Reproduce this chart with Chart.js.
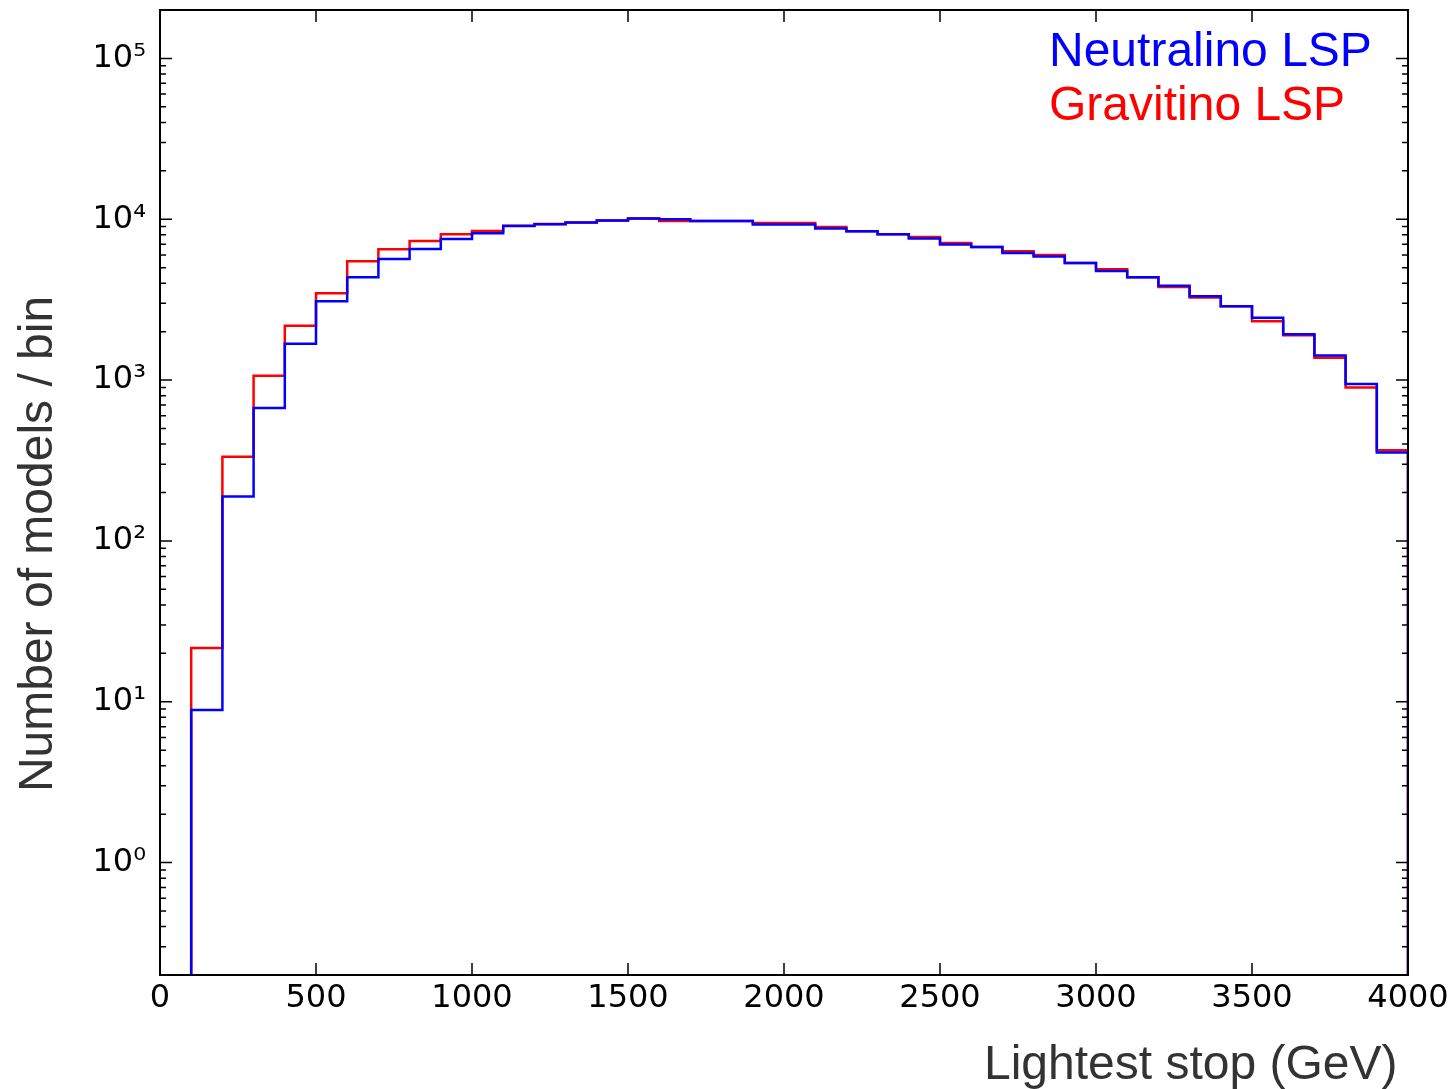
<!DOCTYPE html>
<html>
<head>
<meta charset="utf-8">
<script src="https://cdn.jsdelivr.net/npm/chart.js@4"></script>
<style>
  html, body { margin: 0; padding: 0; background: #fff; }
  #wrap { width: 1452px; height: 1089px; position: relative; }
</style>
</head>
<body>
<div id="wrap"><canvas id="stopChart"></canvas></div>
<script>
// Bin left edges (GeV), bins are 100 GeV wide
var binEdges = [100, 200, 300, 400, 500, 600, 700, 800, 900, 1000,
    1100, 1200, 1300, 1400, 1500, 1600, 1700, 1800, 1900, 2000,
    2100, 2200, 2300, 2400, 2500, 2600, 2700, 2800, 2900, 3000,
    3100, 3200, 3300, 3400, 3500, 3600, 3700, 3800, 3900];
var binUpper = 4000;

// Number of models / bin
var neutralino = [8.9, 189, 670, 1680, 3090, 4360, 5660, 6530, 7540, 8180,
    9080, 9310, 9530, 9810, 10100, 10000, 9760, 9760, 9270, 9270,
    8750, 8420, 8070, 7590, 6960, 6720, 6170, 5860, 5350, 4770,
    4360, 3860, 3320, 2880, 2440, 1930, 1420, 944, 355];
var gravitino = [21.6, 334, 1065, 2180, 3470, 5480, 6510, 7330, 8070, 8460,
    9100, 9330, 9550, 9830, 10100, 9760, 9760, 9760, 9490, 9490,
    8960, 8420, 8070, 7760, 7130, 6720, 6330, 5990, 5350, 4880,
    4360, 3790, 3260, 2880, 2320, 1900, 1376, 898, 366];

var xTickValues = [0, 500, 1000, 1500, 2000, 2500, 3000, 3500, 4000];
var yTickValues = [1, 10, 100, 1000, 10000, 100000];
var yTickLabels = ['10\u2070', '10\u00B9', '10\u00B2', '10\u00B3', '10\u2074', '10\u2075'];

var yMin = 0.2, yMax = 2e5, yFloor = 0.1;

// histogram outline: drop from floor, step through bins, drop back to floor
function histPoints(values) {
    var pts = [{x: binEdges[0], y: yFloor}];
    binEdges.forEach(function (e, i) { pts.push({x: e, y: values[i]}); });
    pts.push({x: binUpper, y: values[values.length - 1]});
    pts.push({x: binUpper, y: yFloor});
    return pts;
}

// frame, inward ticks, legend text and axis titles
var frameTicks = {
    id: 'frameTicks',
    afterDraw: function (chart) {
        var ctx = chart.ctx, a = chart.chartArea;
        var x = chart.scales.x, y = chart.scales.y;
        ctx.save();
        ctx.strokeStyle = '#000';
        ctx.lineWidth = 1.5;
        ctx.beginPath();
        xTickValues.forEach(function (v) {
            var px = x.getPixelForValue(v);
            ctx.moveTo(px, a.bottom); ctx.lineTo(px, a.bottom - 12);
            ctx.moveTo(px, a.top); ctx.lineTo(px, a.top + 12);
        });
        for (var e = -1; e <= 5; e++) {
            for (var m = 1; m <= 9; m++) {
                var v = m * Math.pow(10, e);
                if (v < yMin || v > yMax) continue;
                var py = y.getPixelForValue(v);
                var len = m === 1 ? 12 : 6;
                ctx.moveTo(a.left, py); ctx.lineTo(a.left + len, py);
                ctx.moveTo(a.right, py); ctx.lineTo(a.right - len, py);
            }
        }
        ctx.stroke();
        ctx.lineWidth = 2;
        ctx.strokeRect(a.left, a.top, a.right - a.left, a.bottom - a.top);

        // legend as plain coloured text
        ctx.font = '48px "Liberation Sans", Arial, sans-serif';
        ctx.textAlign = 'left';
        ctx.textBaseline = 'alphabetic';
        chart.data.datasets.forEach(function (ds, i) {
            ctx.fillStyle = ds.borderColor;
            ctx.fillText(ds.label, 1049, 66 + i * 54);
        });

        // axis titles
        ctx.fillStyle = '#333';
        ctx.fillText('Lightest stop (GeV)', 984, 1079);
        ctx.translate(52, 544);
        ctx.rotate(-Math.PI / 2);
        ctx.textAlign = 'center';
        ctx.fillText('Number of models / bin', 0, 0);
        ctx.restore();
    }
};

var ctx = document.getElementById('stopChart');

var chartData = {
    datasets: [{
        label: 'Neutralino LSP',
        data: histPoints(neutralino),
        borderColor: '#0000ff',
        borderWidth: 2.5,
        stepped: 'before',
        pointRadius: 0,
        fill: false
    }, {
        label: 'Gravitino LSP',
        data: histPoints(gravitino),
        borderColor: '#ff0000',
        borderWidth: 2.5,
        stepped: 'before',
        pointRadius: 0,
        fill: false
    }]
};

var chartOptions = {
    responsive: true,
    maintainAspectRatio: false,
    animation: false,
    layout: { padding: { top: 10, right: 44, left: 0, bottom: 0 } },
    plugins: { legend: { display: false }, tooltip: { enabled: false } },
    scales: {
        x: {
            type: 'linear',
            min: 0,
            max: 4000,
            grid: { display: false, drawTicks: false },
            border: { display: false },
            afterBuildTicks: function (scale) {
                scale.ticks = xTickValues.map(function (v) { return {value: v}; });
            },
            afterFit: function (scale) {
                scale.height = 114;
                scale.paddingLeft = 0; scale.paddingRight = 0;
            },
            ticks: {
                padding: 4,
                maxRotation: 0,
                color: '#000',
                font: { family: '"DejaVu Sans", sans-serif', size: 32 },
                callback: function (v) { return String(v); }
            }
        },
        y: {
            type: 'logarithmic',
            min: yMin,
            max: yMax,
            grid: { display: false, drawTicks: false },
            border: { display: false },
            afterBuildTicks: function (scale) {
                scale.ticks = yTickValues.map(function (v) { return {value: v}; });
            },
            afterFit: function (scale) {
                scale.width = 160;
                scale.paddingTop = 0; scale.paddingBottom = 0;
            },
            ticks: {
                padding: 14,
                color: '#000',
                font: { family: '"DejaVu Sans", sans-serif', size: 32 },
                callback: function (v) {
                    var i = yTickValues.indexOf(v);
                    return i >= 0 ? yTickLabels[i] : '';
                }
            }
        }
    }
};

var config = {
    type: 'line',
    data: chartData,
    options: chartOptions,
    plugins: [frameTicks]
};

var stopChart = new Chart(ctx, config);
</script>
</body>
</html>
